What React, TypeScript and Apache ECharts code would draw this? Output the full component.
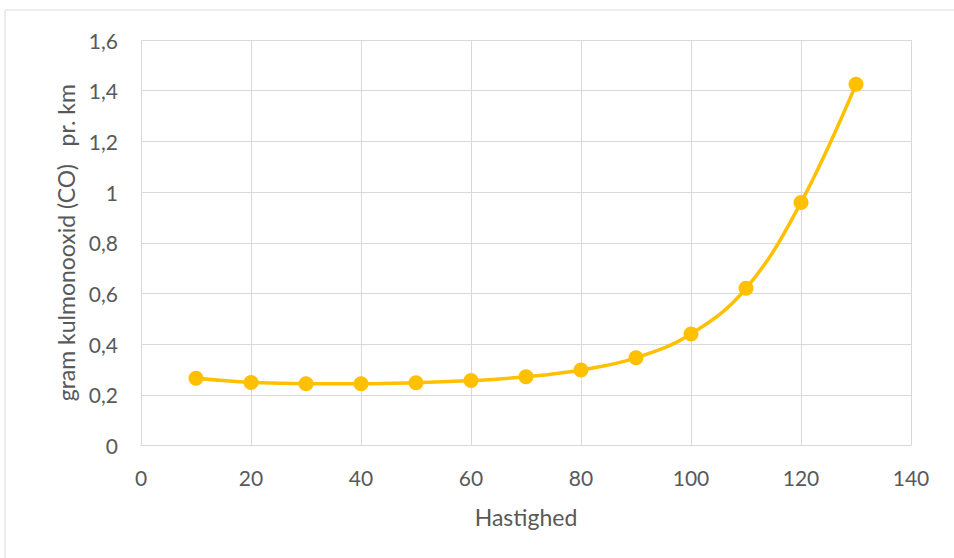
import React, { useEffect, useRef } from "react";
import * as echarts from "echarts";

// Speed (km/h) and CO emission (g per km)
const speeds = [10, 20, 30, 40, 50, 60, 70, 80, 90, 100, 110, 120, 130];
const coValues = [0.265, 0.249, 0.244, 0.244, 0.248, 0.256, 0.271, 0.298, 0.346, 0.44, 0.62, 0.959, 1.425];

const xTitle = "Hastighed";
const yTitle = "gram kulmonooxid (CO)   pr. km";

const FONT = "Lato, 'Open Sans', sans-serif";
const TEXT = "#595959";
const GRID = "#D9D9D9";
const GOLD = "#FFC000";

export default function App() {
  const ref = useRef<HTMLDivElement>(null);

  useEffect(() => {
    if (!ref.current) return;
    const chart = echarts.init(ref.current, undefined, { renderer: "svg" });
    chart.setOption({
      animation: false,
      backgroundColor: "#ffffff",
      graphic: [
        {
          type: "rect",
          shape: { x: 5, y: 10, width: 960, height: 560 },
          style: { fill: "none", stroke: GRID, lineWidth: 1 },
          silent: true,
        },
      ],
      grid: { left: 141, right: 43, top: 40, bottom: 112.5, containLabel: false },
      xAxis: {
        type: "value",
        min: 0,
        max: 140,
        interval: 20,
        name: xTitle,
        nameLocation: "middle",
        nameGap: 60,
        nameTextStyle: { color: TEXT, fontSize: 23, fontFamily: FONT },
        axisLine: { show: true, lineStyle: { color: GRID, width: 1 } },
        axisTick: { show: false },
        axisLabel: { color: TEXT, fontSize: 21, fontFamily: FONT, margin: 21 },
        splitLine: { show: true, lineStyle: { color: GRID, width: 1 } },
      },
      yAxis: {
        type: "value",
        min: 0,
        max: 1.6,
        interval: 0.2,
        name: yTitle,
        nameLocation: "middle",
        nameGap: 61,
        nameTextStyle: { color: TEXT, fontSize: 23, fontFamily: FONT },
        axisLine: { show: false },
        axisTick: { show: false },
        axisLabel: {
          color: TEXT,
          fontSize: 21,
          fontFamily: FONT,
          margin: 23,
          formatter: (v: number) => String(Math.round(v * 10) / 10).replace(".", ","),
        },
        splitLine: { show: true, lineStyle: { color: GRID, width: 1 } },
      },
      series: [
        {
          type: "line",
          data: speeds.map((s, i) => [s, coValues[i]]),
          smooth: 0.4,
          symbol: "circle",
          symbolSize: 15,
          lineStyle: { color: GOLD, width: 3.5 },
          itemStyle: { color: GOLD },
        },
      ],
    });
    return () => chart.dispose();
  }, []);

  return (
    <div
      ref={ref}
      style={{ position: "fixed", left: 0, top: 0, width: 954, height: 558 }}
    />
  );
}
